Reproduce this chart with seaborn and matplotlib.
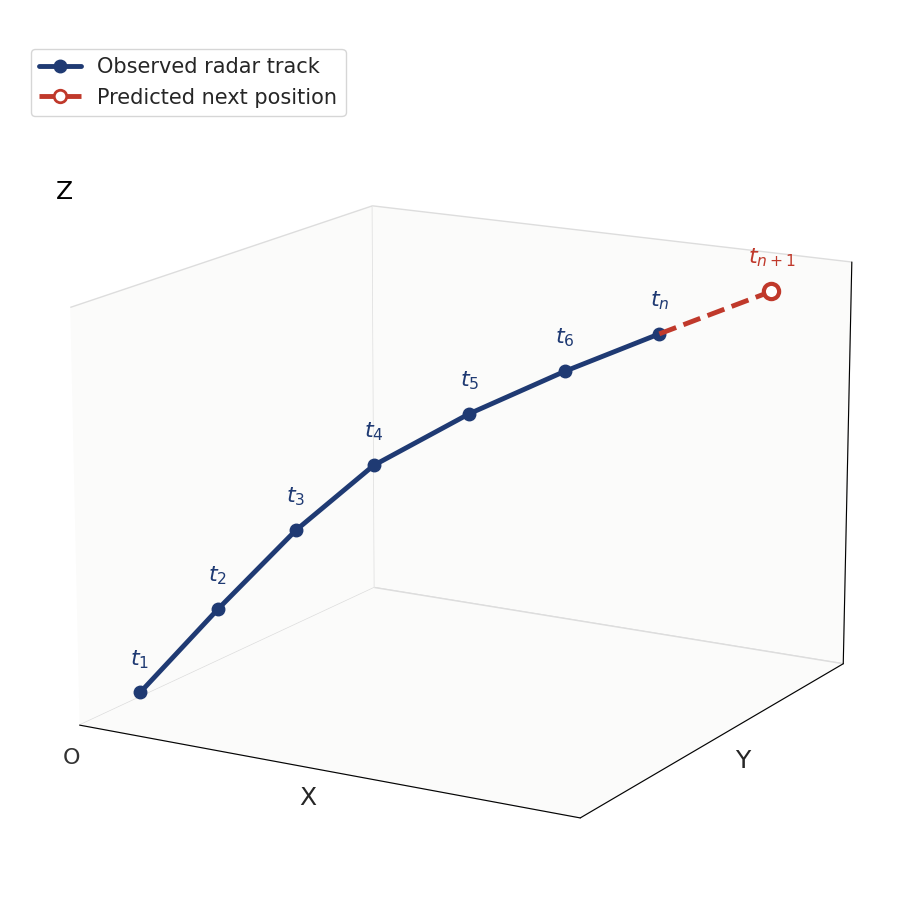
import numpy as np
import matplotlib
matplotlib.use('Agg')
import matplotlib.pyplot as plt
import seaborn as sns

sns.set_style('white')

# observed track points t1..tn
track_x = [0.6, 1.4, 2.2, 3.0, 4.0, 5.0, 6.0]
track_y = [0.4, 0.9, 1.4, 1.9, 2.5, 3.1, 3.7]
track_z = [0.6, 2.3, 3.9, 5.2, 6.2, 7.0, 7.7]
labels = ['$t_1$', '$t_2$', '$t_3$', '$t_4$', '$t_5$', '$t_6$', '$t_n$']
pred_x = [6.0, 7.2]
pred_y = [3.7, 4.4]
pred_z = [7.7, 8.5]

navy = '#1f3a73'
red = '#c0392b'

fig = plt.figure(figsize=(9.15, 9.15), dpi=100)
ax = fig.add_axes([0.02, -0.03, 0.96, 0.96], projection='3d')
ax.view_init(elev=15, azim=-60)

ax.plot(track_x, track_y, track_z, color=navy, lw=3.5, marker='o', ms=9,
        label='Observed radar track')
ax.plot(pred_x, pred_y, pred_z, color=red, lw=3.5, ls='--', label='_nolegend_')
ax.plot(pred_x[1:], pred_y[1:], pred_z[1:], color=red, marker='o', ms=11,
        mfc='white', mew=3, ls='none')
# legend proxy for prediction
ax.plot([], [], [], color=red, lw=3.5, ls='--', marker='o', ms=9, mfc='white',
        mew=2, label='Predicted next position')

for x, y, z, t in zip(track_x, track_y, track_z, labels):
    ax.text(x, y, z + 0.6, t, color=navy, fontsize=16, ha='center')
ax.text(pred_x[1], pred_y[1], pred_z[1] + 0.6, '$t_{n+1}$', color=red,
        fontsize=16, ha='center')
ax.text(0, 0, -0.5, 'O', color='#333333', fontsize=16, ha='right', va='top')

ax.set_xlim(0, 8)
ax.set_ylim(0, 5)
ax.set_zlim(0, 9)
ax.set_xticks([])
ax.set_yticks([])
ax.set_zticks([])
ax.set_xlabel('X', fontsize=18, labelpad=-5)
ax.set_ylabel('Y', fontsize=18, labelpad=-5)
ax.set_zlabel('')
fig.text(0.07, 0.79, 'Z', fontsize=18, ha='center', va='center', color='black')
ax.grid(False)
for a in (ax.xaxis, ax.yaxis, ax.zaxis):
    a.set_pane_color((0.985, 0.985, 0.98, 1.0))
    a.pane.set_edgecolor('#dddddd')
ax.xaxis.line.set_color('black')
ax.yaxis.line.set_color('black')
ax.zaxis.line.set_color('black')

fig.legend(loc='upper left', bbox_to_anchor=(0.022, 0.958), fontsize=15)
plt.savefig('out.png', dpi=100)
plt.close()
